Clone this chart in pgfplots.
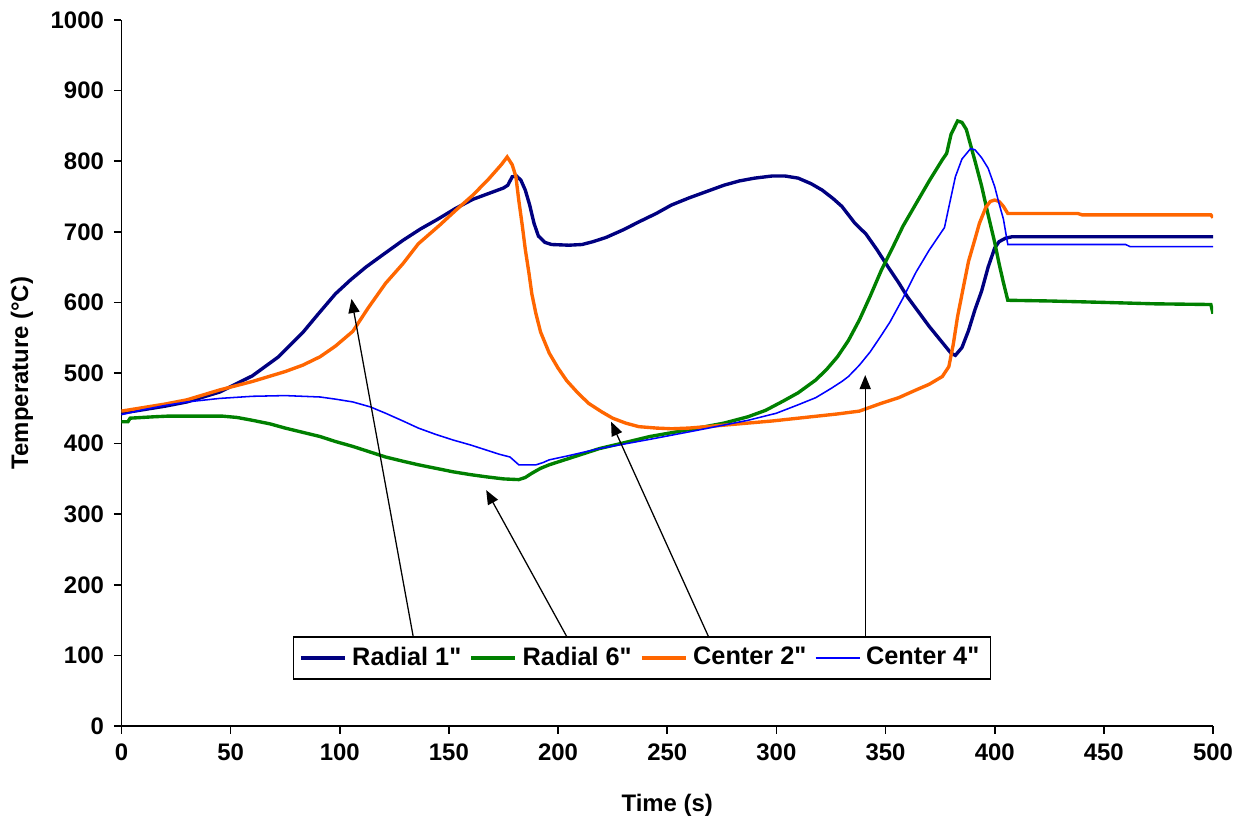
\documentclass[border=0pt]{standalone}
\usepackage{fontspec}
\setmainfont{Liberation Sans}[Ligatures=TeXOff]
\usepackage{pgfplots}
\pgfplotsset{compat=1.18}
\usetikzlibrary{arrows.meta}

\definecolor{rnavy}{HTML}{000080}
\definecolor{rgreen}{HTML}{008000}
\definecolor{corange}{HTML}{FF6600}
\definecolor{cblue}{HTML}{0000FF}

\begin{document}
\begin{tikzpicture}
\begin{axis}[
  scale only axis,
  width=13.645cm, height=8.825cm,
  xmin=0, xmax=500, ymin=0, ymax=1000,
  axis x line*=bottom, axis y line*=left,
  axis line style={line width=0.6pt},
  xtick={0,50,...,500}, ytick={0,100,...,1000},
  tick align=outside, major tick length=0.095cm,
  tick style={line width=0.6pt, black},
  /pgf/number format/assume math mode=true,
  /pgf/number format/1000 sep={},
  ticklabel style={font=\fontsize{8.5}{10}\selectfont\bfseries},
  xlabel={Time (s)}, ylabel={Temperature (°C)},
  label style={font=\fontsize{8.5}{10}\selectfont\bfseries},
  xlabel style={at={(axis description cs:0.5,-0.112)}, anchor=center},
  ylabel style={at={(axis description cs:-0.091,0.5)}, anchor=center},
  legend columns=4,
  legend style={at={(axis description cs:0.157,0.065)}, anchor=south west,
    draw=black, line width=0.6pt, font=\fontsize{9}{11}\selectfont\bfseries,
    inner xsep=2pt, inner ysep=1.5pt,
    /tikz/column sep=0pt,
    /tikz/every even column/.append style={column sep=1pt}},
  legend image code/.code={\draw[#1] (0cm,0cm) -- (0.55cm,0cm);},
]
\addplot[rnavy, line width=1.2pt] coordinates {
(0,443)(10,448)(20,453)(30,459)(45,473)(60,496)(72,523)(83,557)(90,583)(98,612)
(105,632)(112,650)(120,668)(129,688)(137,704)(145,718)(153,733)(161,746)(168,754)
(175,762)(177,766)(179,778)(181,779)(183,773)(185,759)(187,738)(189,712)(191,694)
(194,685)(197,682)(205,681)(211,682)(216,686)(222,692)(230,703)(237,714)(245,726)
(252,738)(260,748)(268,757)(276,766)(283,772)(290,776)(298,779)(304,779)(310,776)
(316,768)(321,759)(326,747)(330,736)(336,712)(341,697)(346,675)(351,651)(356,628)
(360,608)(365,587)(370,566)(375,547)(380,528)(382,525)(385,536)(388,560)(391,590)
(394,616)(397,650)(400,677)(402,686)(405,691)(408,693)(450,693)(500,693)
};
\addlegendentry{Radial 1"}
\addplot[rgreen, line width=1.2pt] coordinates {
(0,431)(3,431)(4,436)(15,438)(22,439)(46,439)(53,437)(60,433)(68,428)(75,422)
(83,416)(91,410)(98,403)(106,396)(114,388)(121,381)(129,375)(136,370)(144,365)
(152,360)(160,356)(167,353)(175,350)(182,349)(185,352)(188,358)(192,365)(196,370)
(205,379)(219,393)(230,401)(242,410)(253,416)(264,422)(276,429)(287,438)(295,447)
(303,460)(310,472)(318,490)(323,505)(328,523)(333,546)(338,575)(343,609)(348,645)
(353,676)(358,708)(364,740)(370,772)(376,802)(378,811)(380,838)(383,857)(385,855)
(387,845)(391,800)(394,765)(397,724)(400,685)(402,655)(404,628)(406,603)(425,602)
(450,600)(473,598)(499,597)(500,584)
};
\addlegendentry{Radial 6"}
\addplot[corange, line width=1.2pt] coordinates {
(0,446)(10,451)(20,456)(30,462)(45,476)(60,488)(75,502)(83,511)(91,523)(98,538)
(106,559)(113,592)(121,627)(129,655)(136,683)(146,710)(153,730)(161,752)(168,774)
(174,795)(176.7,806)(179,795)(180.7,778)(182,745)(183.7,707)(185,675)(186.7,641)
(188,612)(189.8,585)(192,558)(196,528)(200,507)(204,489)(209,472)(214,457)(220,445)
(225,436)(231,429)(237,424)(245,422)(252,421)(260,422)(268,424)(283,428)(298,432)
(313,437)(328,442)(338,446)(348,457)(356,465)(364,476)(370,484)(376,495)(379,509)
(381,540)(383,580)(386,627)(388,658)(391,690)(393,712)(396,735)(398,743)(400,745)
(402,743)(404,736)(406,726)(438,726)(440,724)(499,724)(500,720)
};
\addlegendentry{Center 2"}
\addplot[cblue, line width=0.55pt] coordinates {
(0,441)(10,448)(20,454)(30,459)(45,464)(60,467)(75,468)(91,466)(98,463)(106,459)
(114,452)(121,443)(129,432)(136,422)(144,413)(152,405)(160,398)(167,391)(173,385)
(178,381)(182,370)(190,370)(193,373)(196,377)(205,383)(219,393)(242,406)(264,419)
(287,433)(300,443)(310,455)(318,465)(325,478)(330,488)(333,495)(338,511)(343,530)
(348,553)(352,572)(358,606)(364,643)(370,674)(377,706)(379,735)(382,778)(385,803)
(389,818)(391,816)(394,805)(397,790)(400,764)(402,740)(404,718)(406,682)(460,682)
(462,679)(500,679)
};
\addlegendentry{Center 4"}
% annotation arrows from the legend to the curves
\draw[-{Triangle[length=5pt,width=4pt]}, line width=0.45pt] (axis cs:133.7,126) -- (axis cs:105.4,605);
\draw[-{Triangle[length=5pt,width=4pt]}, line width=0.45pt] (axis cs:204.1,126) -- (axis cs:167.1,334);
\draw[-{Triangle[length=5pt,width=4pt]}, line width=0.45pt] (axis cs:269,126) -- (axis cs:224.3,431);
\draw[-{Triangle[length=5pt,width=4pt]}, line width=0.45pt] (axis cs:340.7,126) -- (axis cs:340.7,497);
\end{axis}
\pgfresetboundingbox
\path (-1.5175cm,-1.2625cm) rectangle (14.02cm,9.075cm);
\end{tikzpicture}
\end{document}
